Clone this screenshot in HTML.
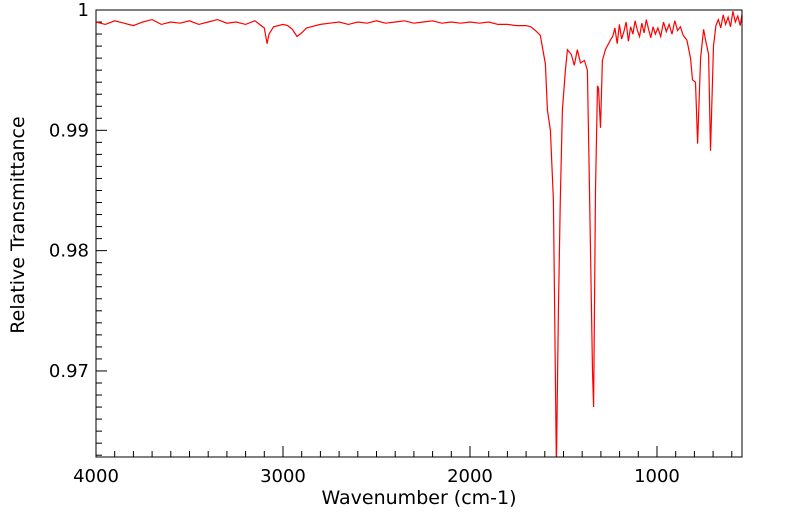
<!DOCTYPE html>
<html><head><meta charset="utf-8"><style>
html,body{margin:0;padding:0;background:#fff;}
svg{display:block;font-family:"DejaVu Sans","Liberation Sans",sans-serif;}
</style></head><body>
<svg id="chart" width="799" height="516" viewBox="0 0 799 516">
<defs><clipPath id="pc"><rect x="96" y="10" width="646" height="447"/></clipPath></defs>
<g id="ticks"></g>
<g id="series" clip-path="url(#pc)"></g>
<rect x="96" y="10" width="646" height="447" fill="none" stroke="#000" stroke-width="1"/>
<text x="419" y="504" font-size="19" text-anchor="middle">Wavenumber (cm-1)</text>
<text transform="translate(24,225) rotate(-90)" font-size="19" text-anchor="middle">Relative Transmittance</text>
</svg>
<script>
const wavenumbers=[4000,3950,3900,3850,3800,3750,3700,3650,3600,3550,3500,3450,3400,3350,3300,3250,3200,3150,3125,3100,3085,3075,3050,3000,2975,2950,2925,2900,2875,2850,2800,2750,2700,2650,2600,2550,2500,2450,2400,2350,2300,2250,2200,2150,2100,2050,2000,1950,1900,1850,1800,1750,1700,1675,1650,1624,1597,1586,1570,1554,1538,1527,1517,1506,1490,1479,1458,1442,1426,1409,1388,1372,1361,1345,1339,1329,1318,1313,1302,1292,1276,1249,1237,1225,1213,1201,1189,1177,1165,1153,1141,1129,1117,1105,1093,1081,1069,1057,1045,1033,1021,1009,995,980,965,950,935,920,905,890,875,860,840,821,810,794,783,767,751,740,724,714,698,685,672,659,646,633,620,607,594,581,568,555,545];
const transmittance=[0.9990,0.9988,0.9991,0.9989,0.9987,0.9990,0.9992,0.9988,0.9990,0.9989,0.9991,0.9988,0.9990,0.9992,0.9989,0.9990,0.9988,0.9991,0.9988,0.9985,0.9972,0.9980,0.9986,0.9988,0.9987,0.9984,0.9978,0.9981,0.9985,0.9986,0.9988,0.9989,0.9990,0.9988,0.9990,0.9989,0.9991,0.9989,0.9990,0.9991,0.9989,0.9990,0.9991,0.9989,0.9990,0.9989,0.9990,0.9989,0.9990,0.9988,0.9988,0.9987,0.9987,0.9986,0.9983,0.9979,0.9955,0.9917,0.9900,0.9842,0.9620,0.9750,0.9842,0.9917,0.9950,0.9967,0.9963,0.9954,0.9967,0.9956,0.9958,0.9950,0.9850,0.9700,0.9670,0.9850,0.9937,0.9935,0.9902,0.9958,0.9967,0.9975,0.9978,0.9985,0.9972,0.9988,0.9976,0.9982,0.9990,0.9974,0.9986,0.9980,0.9991,0.9983,0.9978,0.9989,0.9981,0.9992,0.9984,0.9977,0.9986,0.9980,0.9985,0.9978,0.9990,0.9982,0.9988,0.9980,0.9991,0.9983,0.9986,0.9979,0.9975,0.9960,0.9942,0.9940,0.9889,0.9960,0.9984,0.9975,0.9963,0.9883,0.9970,0.9987,0.9992,0.9985,0.9996,0.9988,0.9994,0.9986,0.9999,0.9990,0.9995,0.9987,0.9997,0.9989,0.9993];
const xTicks=[4000,3000,2000,1000];
const yTicks=[0.97,0.98,0.99,1];
const yTickLabels=["0.97","0.98","0.99","1"];
const X0=96,X1=742,Y0=10,Y1=457,WMAX=4000,WMIN=545.4,TMAX=1,TMIN=0.96285;
function xs(w){return X0+(WMAX-w)/(WMAX-WMIN)*(X1-X0);}
function ys(t){return Y0+(TMAX-t)/(TMAX-TMIN)*(Y1-Y0);}
const NS="http://www.w3.org/2000/svg";
const tg=document.getElementById('ticks');
function line(x1,y1,x2,y2,name){const l=document.createElementNS(NS,'line');l.setAttribute('x1',x1);l.setAttribute('y1',y1);l.setAttribute('x2',x2);l.setAttribute('y2',y2);l.setAttribute('stroke','#000');l.setAttribute('stroke-width','1');


tg.appendChild(l);}
for(let w=4000;w>=WMIN;w-=100){const x=xs(w);const major=w%1000===0;line(x,Y1,x,Y1-(major?11:6),major?'x-major-tick':'x-minor-tick');}
for(let k=0;k<=37;k++){const t=1-k*0.001;const y=ys(t);if(y>Y1)break;const major=k%10===0;line(X0,y,X0+(major?11:6),y,major?'y-major-tick':'y-minor-tick');}
xTicks.forEach(w=>{const t=document.createElementNS(NS,'text');t.setAttribute('x',xs(w));t.setAttribute('y',482);t.setAttribute('font-size','18');t.setAttribute('text-anchor','middle');t.textContent=String(w);


tg.appendChild(t);});
yTicks.forEach((v,i)=>{const t=document.createElementNS(NS,'text');t.setAttribute('x',89);t.setAttribute('y',ys(v)+6);t.setAttribute('font-size','18');t.setAttribute('text-anchor','end');t.textContent=yTickLabels[i];


tg.appendChild(t);});
const p=document.createElementNS(NS,'polyline');
p.setAttribute('points',wavenumbers.map((w,i)=>xs(w).toFixed(1)+','+ys(transmittance[i]).toFixed(1)).join(' '));
p.setAttribute('fill','none');p.setAttribute('stroke','#ff0000');p.setAttribute('stroke-width','1.2');


document.getElementById('series').appendChild(p);
</script>
</body></html>
